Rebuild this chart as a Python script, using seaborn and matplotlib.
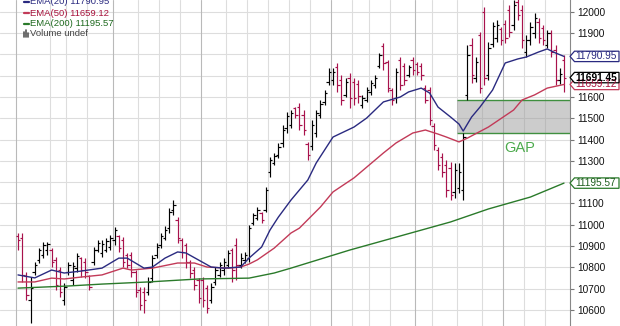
import numpy as np
import pandas as pd
import matplotlib
matplotlib.use("Agg")
import matplotlib.pyplot as plt
import seaborn as sns
from matplotlib.patches import Polygon, Rectangle
from matplotlib.lines import Line2D

# ---------------- data ----------------
highs = [10961,10961,10778,10754,10825,10890,10919,10919,10890,10848,
         10801,10726,10825,10825,10867,10848,10843,10764,10895,10928,
         10928,10937,10952,10989,10952,10942,10867,10872,10787,10707,
         10707,10754,10858,10914,10961,10994,11078,11116,11036,10937,
         10914,10834,10801,10749,10754,10717,10726,10801,10825,10843,
         10881,10890,10937,10867,10872,10999,11055,11083,11060,11177,
         11318,11337,11384,11469,11530,11539,11553,11572,11539,11389,
         11492,11539,11586,11633,11736,11736,11760,11703,11689,11713,
         11689,11680,11610,11647,11680,11703,11807,11854,11774,11642,
         11736,11788,11760,11750,11788,11765,11760,11656,11647,11478,
         11365,11337,11304,11295,11290,11290,11431,11845,11878,11788,
         11906,12023,11859,11953,11962,11929,11962,12033,12056,12070,
         12033,11892,11953,11995,11971,11939,11915,11915,11845,11736,
         11798]
lows = [10881,10731,10646,10538,10764,10820,10843,10858,10801,10693,
        10660,10623,10764,10717,10778,10754,10749,10693,10811,10872,
        10848,10872,10881,10905,10872,10801,10796,10754,10660,10599,
        10585,10670,10731,10843,10890,10928,10961,11046,10914,10843,
        10796,10749,10693,10632,10613,10585,10632,10717,10754,10764,
        10796,10731,10740,10796,10820,10825,10999,11022,11008,11060,
        11224,11281,11313,11365,11431,11454,11501,11445,11422,11304,
        11351,11412,11501,11563,11656,11656,11624,11563,11600,11548,
        11563,11572,11548,11577,11610,11642,11736,11727,11624,11563,
        11572,11633,11656,11694,11703,11703,11680,11572,11469,11351,
        11257,11224,11130,11116,11125,11149,11116,11586,11666,11671,
        11619,11656,11680,11835,11859,11845,11854,11882,11915,11962,
        11830,11788,11845,11877,11854,11845,11830,11788,11657,11661,
        11624]
opens = [10947,10937,10759,10646,10778,10834,10858,10881,10881,10834,
         10787,10646,10778,10740,10796,10843,10825,10759,10825,10881,
         10867,10881,10895,10928,10947,10928,10858,10858,10778,10693,
         10684,10684,10749,10858,10905,10937,10984,11069,11022,10928,
         10905,10825,10787,10740,10740,10702,10646,10731,10764,10787,
         10811,10881,10905,10811,10834,10843,11008,11031,11055,11069,
         11248,11290,11328,11384,11454,11469,11548,11553,11516,11379,
         11370,11431,11516,11577,11671,11680,11741,11680,11610,11689,
         11671,11661,11563,11586,11624,11656,11746,11840,11765,11633,
         11595,11774,11746,11703,11774,11755,11746,11642,11633,11464,
         11351,11318,11281,11266,11154,11172,11163,11610,11845,11689,
         11892,12000,11704,11849,11877,11920,11943,12009,11939,12047,
         12009,11812,11868,11901,11953,11924,11845,11901,11822,11680,
         11774]
closes = [10928,10764,10670,10702,10811,10881,10905,10909,10825,10717,
          10684,10707,10811,10806,10853,10787,10778,10707,10881,10914,
          10909,10923,10937,10975,10890,10825,10811,10778,10684,10622,
          10646,10731,10843,10895,10947,10975,11060,11093,10937,10872,
          10825,10773,10717,10655,10646,10608,10707,10787,10811,10825,
          10867,10787,10811,10843,10858,10984,11046,11069,11022,11163,
          11304,11323,11365,11445,11511,11525,11516,11469,11445,11327,
          11469,11525,11567,11619,11718,11718,11656,11586,11671,11595,
          11595,11605,11595,11633,11666,11689,11798,11760,11642,11586,
          11718,11656,11680,11741,11727,11718,11703,11586,11492,11374,
          11281,11248,11163,11140,11257,11248,11412,11798,11704,11765,
          11642,11689,11830,11934,11939,11868,11877,11906,12033,11986,
          11868,11868,11929,11971,11877,11868,11901,11812,11681,11708,
          11691.45]

ema20_idx = [0,4,8,11,15,20,24,26,30,32,35,38,40,43,46,49,53,55,58,60,62,65,69,71,75,
             80,83,87,91,93,96,98,100,103,105,106,108,110,113,116,119,121,124,126,128,130]
ema20_val = [10764,10750,10787,10773,10782,10796,10843,10843,10796,10801,10843,10872,10867,
             10834,10801,10796,10801,10843,10895,10975,11036,11116,11210,11290,11412,
             11459,11501,11577,11600,11624,11642,11619,11553,11506,11473,11440,11506,11553,
             11633,11760,11779,11788,11812,11826,11807,11790.95]
ema50_idx = [0,4,8,11,15,20,25,27,32,38,42,45,50,53,55,57,61,65,67,72,75,80,87,90,94,97,
             100,102,105,107,112,118,120,123,126,130]
ema50_val = [10731,10731,10749,10745,10754,10764,10796,10787,10796,10820,10820,10801,10796,
             10801,10815,10835,10890,10961,10984,11083,11154,11220,11337,11384,11431,11445,
             11426,11412,11389,11407,11459,11539,11586,11610,11642,11659.12]
ema200_idx = [0,12,20,31,43,55,61,65,79,91,103,112,122,130]
ema200_val = [10702,10712,10721,10731,10745,10749,10773,10796,10881,10947,11013,11074,11130,11195.57]

legend_labels = ["EMA(20) 11790.95", "EMA(50) 11659.12", "EMA(200) 11195.57", "Volume undef"]
ytick_vals = [10600,10700,10800,10900,11000,11100,11200,11300,11400,11500,11600,11700,11800,11900,12000]
ytick_labels = ["10600","10700","10800","10900","11000","11100","","11300","11400","11500","11600","","","11900","12000"]
tag_vals = [11790.95, 11659.12, 11691.45, 11195.57]
tag_labels = ["11790.95", "11659.12", "11691.45", "11195.57"]
gap_low, gap_high = 11432, 11587
gap_start = 104.5
vgrid = [-0.5, 7.5, 11.5, 16.5, 22.5, 28.5, 33.5, 38.5, 43.5, 49.5, 54.5, 59.5, 64.5,
         69.5, 74.5, 79.5, 83.5, 88.5, 94.5, 98.5, 104.5, 110.5, 115.5, 120.5, 125.5]
vgrid_dark = [-0.5, 22.5, 43.5, 74.5, 94.5, 115.5]

# ---------------- style ----------------
sns.set_style("white")
plt.rcParams["font.family"] = ["Liberation Sans", "DejaVu Sans"]

W, H = 620, 326
fig = plt.figure(figsize=(W / 100, H / 100), dpi=100)
ax_right_px = 570
ax = fig.add_axes([0, 0, ax_right_px / W, 1])
bar_px = 4.2
x0_px = 18
xmin = -x0_px / bar_px
xmax = (ax_right_px - x0_px) / bar_px
ax.set_xlim(xmin, xmax)
ax.set_ylim(10524, 12056)

RED = "#a8124c"
BLK = "#000000"
C20 = "#2a2a80"
C50 = "#c23a58"
C200 = "#2a7a2a"

# grid
for v in ytick_vals:
    ax.axhline(v, color="#dddddd", lw=0.8, zorder=0)
for g in vgrid:
    ax.axvline(g, color="#b9b9b9" if g in vgrid_dark else "#dddddd", lw=0.8, zorder=0)

# gap box
ax.add_patch(Rectangle((gap_start, gap_low), xmax - gap_start, gap_high - gap_low,
                       facecolor="#9a9a9a", alpha=0.5, edgecolor="none", zorder=1))
ax.hlines([gap_low, gap_high], gap_start, xmax, color="#3f8f3f", lw=1.0, zorder=1.5)

# OHLC bars
n = len(closes)
xs = np.arange(n)
cols = [RED if c < o else BLK for o, c in zip(opens, closes)]
ax.vlines(xs, lows, highs, colors=cols, lw=0.85, zorder=3)
ax.hlines(opens, xs - 0.55, xs, colors=cols, lw=0.85, zorder=3)
ax.hlines(closes, xs, xs + 0.55, colors=cols, lw=0.85, zorder=3)

# EMA lines
for idx, val, c in [(ema200_idx, ema200_val, C200), (ema50_idx, ema50_val, C50), (ema20_idx, ema20_val, C20)]:
    df = pd.DataFrame({"bar": idx, "price": val})
    sns.lineplot(data=df, x="bar", y="price", ax=ax, color=c, lw=1.0, estimator=None, zorder=4)

ax.text(119.5, 11360, "GAP", color="#4caa4c", fontsize=10.5, ha="center", va="center", zorder=5)

# axes cosmetics
ax.set_xlabel("")
ax.set_ylabel("")
ax.set_xticks([])
ax.yaxis.tick_right()
ax.set_yticks(ytick_vals)
ax.set_yticklabels(ytick_labels)
ax.tick_params(axis="y", direction="out", length=3, pad=2, labelsize=7.3, color="#777777", labelcolor="#111111")
for s in ["top", "bottom", "left"]:
    ax.spines[s].set_visible(False)
ax.spines["right"].set_color("#888888")
ax.spines["right"].set_linewidth(0.8)

# price tags on the right axis
def tag(price, label, ec, tc, bold=False):
    y = ax.transData.transform((0, price))[1]
    h = 5.2
    pts = [(ax_right_px, y), (ax_right_px + 4.5, y + h), (619, y + h), (619, y - h), (ax_right_px + 4.5, y - h)]
    poly = Polygon([(px / W, py / H) for px, py in pts], closed=True, transform=fig.transFigure,
                   facecolor="white", edgecolor=ec, lw=0.9, clip_on=False, zorder=10)
    fig.add_artist(poly)
    fig.text(575.5 / W, y / H, label, color=tc, fontsize=7.3, ha="left", va="center",
             fontweight="bold" if bold else "normal", zorder=11)

tag(tag_vals[0], tag_labels[0], C20, C20)
tag(tag_vals[1], tag_labels[1], C50, "#a8123c")
tag(tag_vals[2], tag_labels[2], "#000000", "#000000", bold=True)
tag(tag_vals[3], tag_labels[3], C200, "#1f5f1f")

# legend (top-left, partly cut off at the top as in the reference)
leg_y = [2, 13, 23.5, 33.5]
leg_cols = [C20, "#a8123c", "#1f6a1f", "#444444"]
for i, (lab, yy, c) in enumerate(zip(legend_labels, leg_y, leg_cols)):
    yf = 1 - yy / H
    if i < 3:
        fig.add_artist(Line2D([23.5 / W, 28.5 / W], [yf, yf], color=[C20, C50, C200][i], lw=1.6))
    else:
        for bx, bh in [(24, 5), (26, 7), (28, 4)]:
            fig.add_artist(Line2D([bx / W, bx / W], [1 - (yy + 3.5) / H, 1 - (yy + 3.5 - bh) / H],
                                  color="#555555", lw=1.2))
    fig.text(30 / W, yf, lab, color=c, fontsize=6.8, ha="left", va="center")

fig.savefig("out.png", dpi=100)
